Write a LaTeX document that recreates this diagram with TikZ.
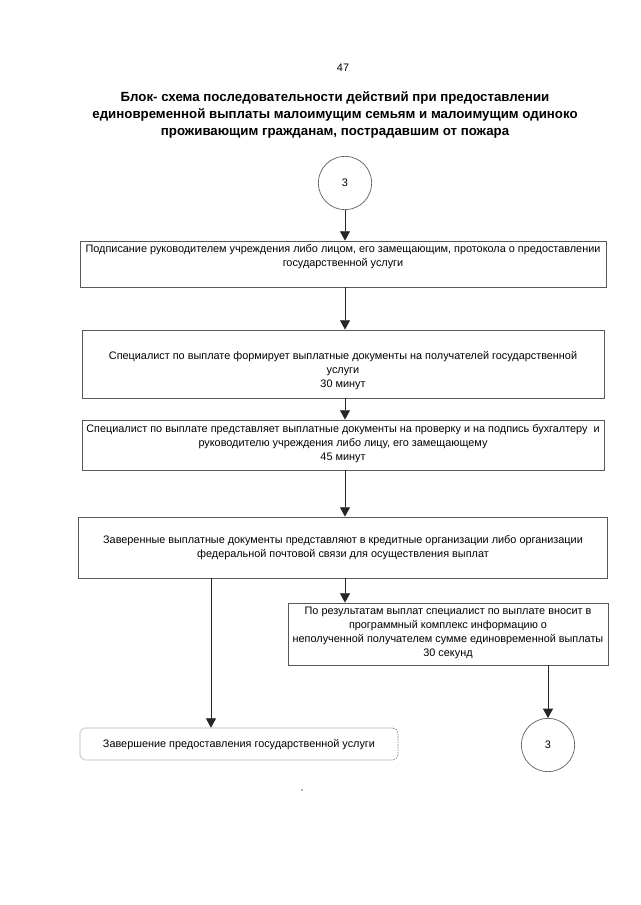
\documentclass[tikz,border=0pt]{standalone}
\usepackage{fontspec}
\setmainfont{Liberation Sans}
\usetikzlibrary{arrows.meta,fit}
\begin{document}
\begin{tikzpicture}[x=0.75pt,y=-0.75pt,
 box/.style={draw=black!65, line width=0.6pt, inner sep=0pt, rectangle},
 endbox/.style={draw=black!45, line width=0.5pt, dash pattern=on 1.2pt off 0.8pt, rounded corners=4pt, inner sep=0pt, rectangle},
 txt/.style={font=\fontsize{8.15}{10.5}\selectfont, align=center, inner sep=0pt},
 ttl/.style={font=\fontsize{9.95}{12.75}\selectfont\bfseries, align=center, inner sep=0pt},
 conn/.style={draw=black!85, line width=0.6pt, -{Triangle[width=7.5pt,length=7pt]}},
 circ/.style={circle, draw=black!65, line width=0.5pt, minimum size=40pt, inner sep=0pt, font=\fontsize{8.15}{10.5}\selectfont}
]
\useasboundingbox[fill=white] (0,0) rectangle (640,905);

\node[txt] (pnum) at (343,68) {47};
\node[ttl] (title) at (335,115) {Блок- схема последовательности действий при предоставлении\\единовременной выплаты малоимущим семьям и малоимущим одиноко\\проживающим гражданам, пострадавшим от пожара};

\node[circ] (c1) at (345,183) {3};

\node[box, fit={(80,241)(606,287)}] (b1) {};
\node[txt] (t1) at (343,257) {Подписание руководителем учреждения либо лицом, его замещающим, протокола о предоставлении\\государственной услуги};

\node[box, fit={(82,330)(604,398)}] (b2) {};
\node[txt] (t2) at (343,371) {Специалист по выплате формирует выплатные документы на получателей государственной\\услуги\\30 минут};

\node[box, fit={(82,420)(604,470)}] (b3) {};
\node[txt] (t3) at (343,444) {Специалист по выплате представляет выплатные документы на проверку и на подпись бухгалтеру \ и\\руководителю учреждения либо лицу, его замещающему\\45 минут};

\node[box, fit={(78,517)(607,578)}] (b4) {};
\node[txt] (t4) at (343,548) {Заверенные выплатные документы представляют в кредитные организации либо организации\\федеральной почтовой связи для осуществления выплат};

\node[box, fit={(288,603)(608,665)}] (b5) {};
\node[txt] (t5) at (448,633) {По результатам выплат специалист по выплате вносит в\\программный комплекс информацию о\\неполученной получателем сумме единовременной выплаты\\30 секунд};

\node[endbox, fit={(80,728)(398,760)}] (b6) {};
\node[txt] (t6) at (239,745) {Завершение предоставления государственной услуги};

\node[circ] (c2) at (548,745) {3};

\coordinate (lx) at (211,0);
\coordinate (ax) at (345,0);

\draw[conn] (c1.south) -- (c1.south |- b1.north);
\draw[conn] (ax |- b1.south) -- (ax |- b2.north);
\draw[conn] (ax |- b2.south) -- (ax |- b3.north);
\draw[conn] (ax |- b3.south) -- (ax |- b4.north);
\draw[conn] (ax |- b4.south) -- (ax |- b5.north);
\draw[conn] (lx |- b4.south) -- (lx |- b6.north);
\draw[conn] (c2.north |- b5.south) -- (c2.north);

\fill[black!60] (302,790) circle (0.8);
\end{tikzpicture}
\end{document}
